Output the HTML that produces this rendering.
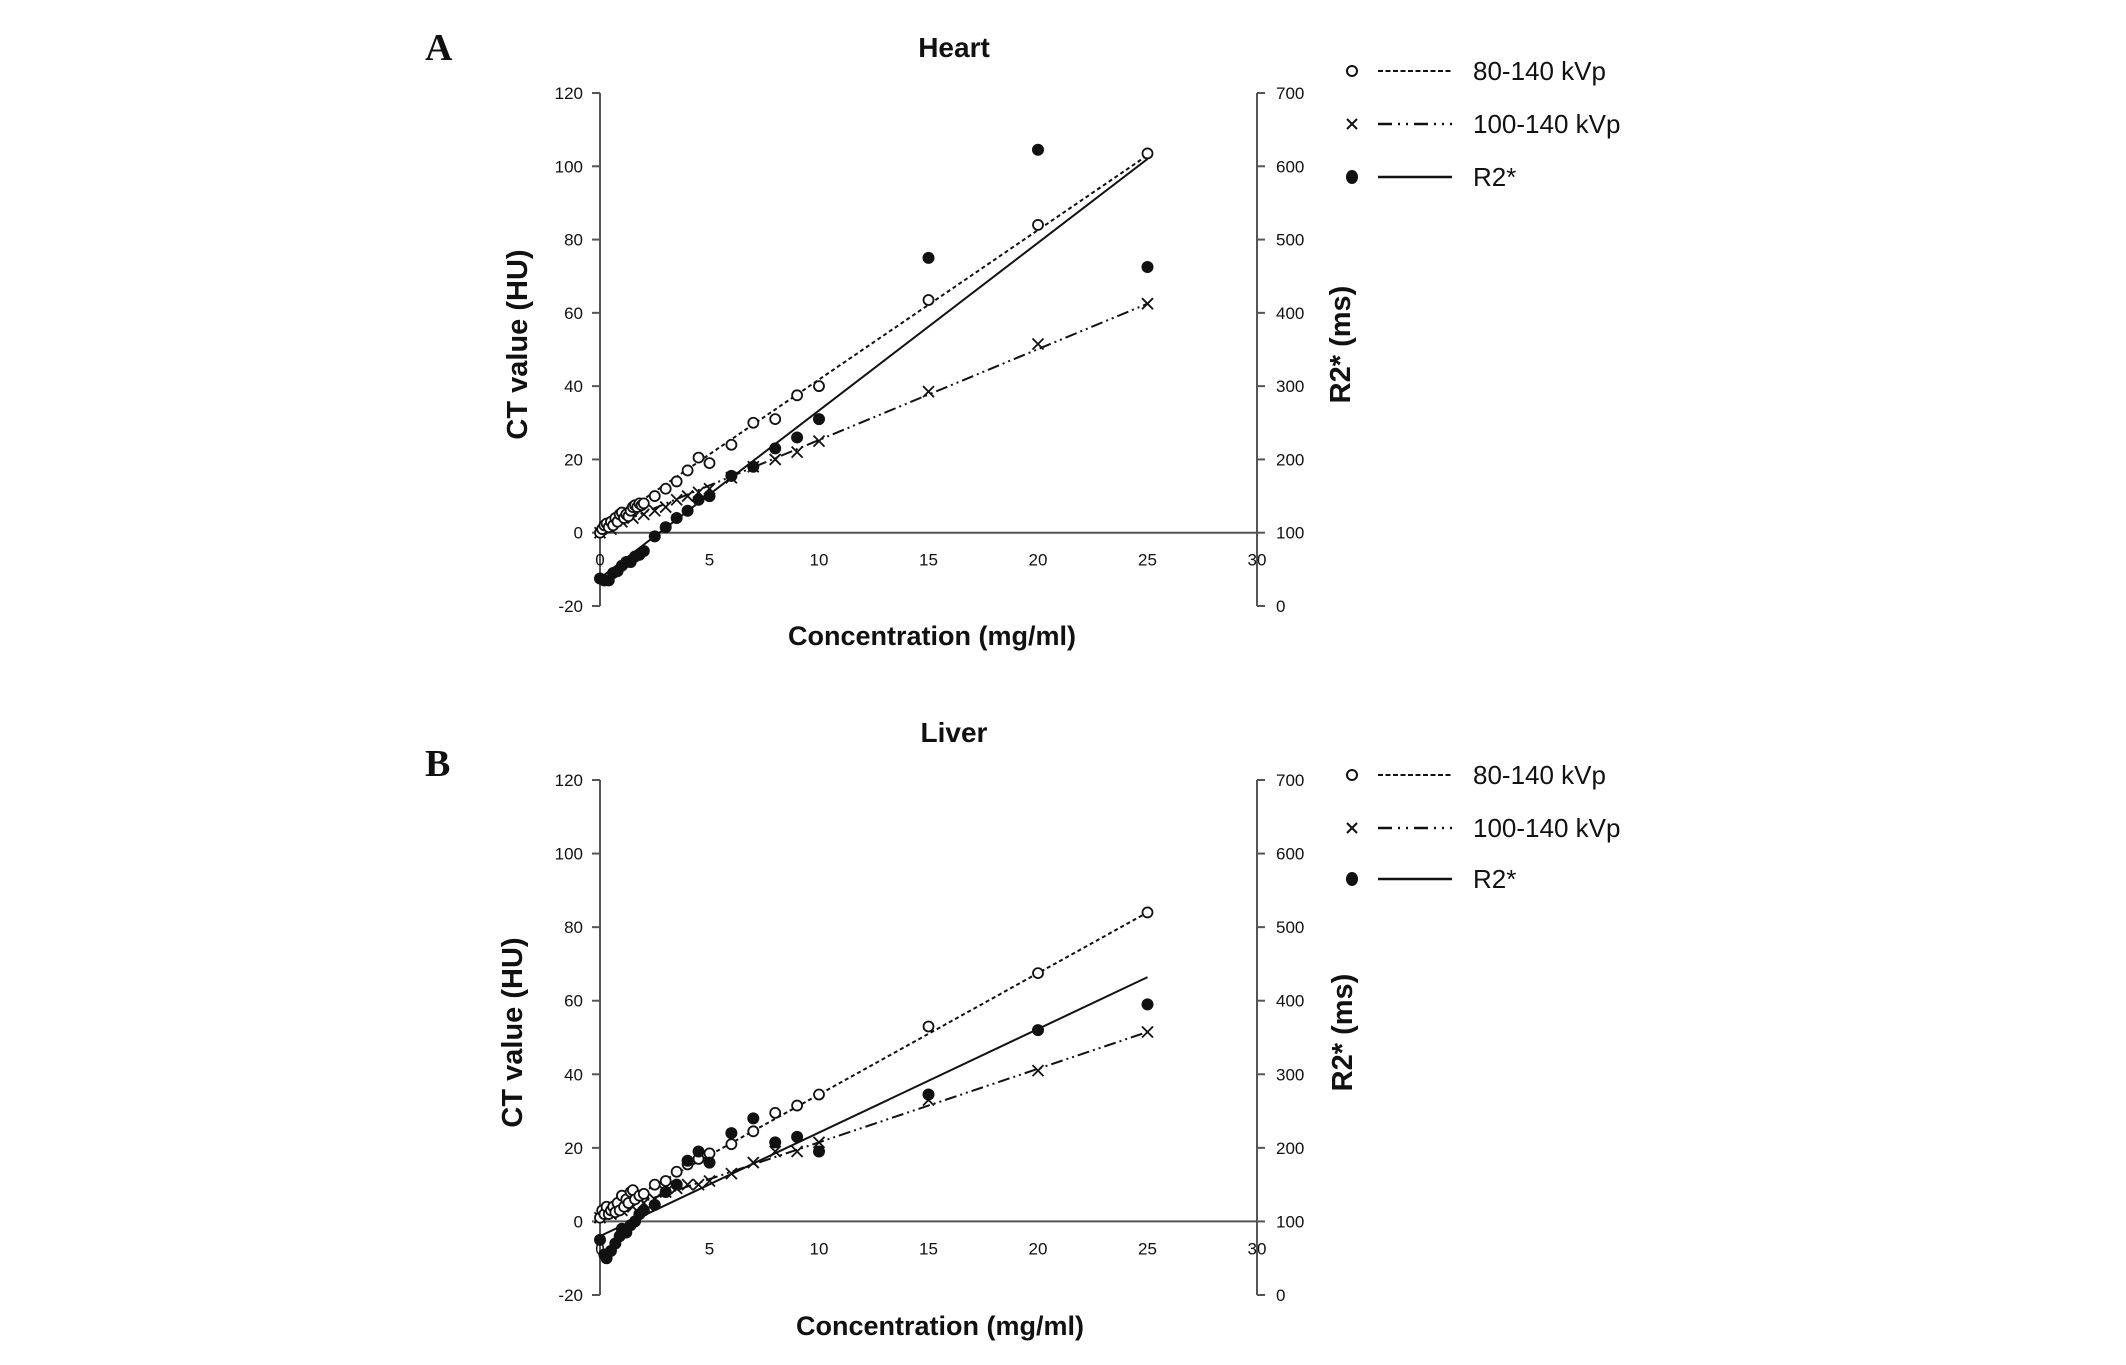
<!DOCTYPE html>
<html><head><meta charset="utf-8"><style>
html,body{margin:0;padding:0;background:#fff}
svg{display:block}
text{font-family:"Liberation Sans",sans-serif;fill:#111}
</style></head><body>
<svg id="fig" width="2126" height="1365" viewBox="0 0 2126 1365" xmlns="http://www.w3.org/2000/svg"></svg>
<script>
// ---- Data ----
const xTicks = [0,5,10,15,20,25,30];
const yTicksLeft = [120,100,80,60,40,20,0,-20];
const yTicksRight = [700,600,500,400,300,200,100,0];

const heartX80 = [0,0.1,0.2,0.3,0.4,0.5,0.6,0.7,0.8,0.9,1.0,1.1,1.2,1.3,1.4,1.5,1.6,1.7,1.8,1.9,2,2.5,3,3.5,4,4.5,5,6,7,8,9,10,15,20,25];
const heartY80 = [0,1,2,2.5,1.5,3,2,4,3,5,5.5,4,5,4.5,6,7,7.5,7,8,7.5,8,10,12,14,17,20.5,19,24,30,31,37.5,40,63.5,84,103.5];
const heartFit80 = [1, 103];
const heartX100 = [0,0.5,1,1.5,2,2.5,3,3.5,4,4.5,5,6,7,8,9,10,15,20,25];
const heartY100 = [0,1,3,4,5,6,7,9,10,11,12,15,18,20,22,25,38.5,51.5,62.5];
const heartFit100 = [0.5, 62.5];
const heartXR2 = [0,0.2,0.4,0.6,0.8,1.0,1.2,1.4,1.6,1.8,2,2.5,3,3.5,4,4.5,5,6,7,8,9,10,15,20,25];
const heartYR2 = [37.5,35,35,45,47.5,55,60,60,67.5,70,75,95,107.5,120,130,145,150,177.5,190,215,230,255,475,622.5,462.5];
const heartFitR2 = [38, 610];

const liverX80 = [0,0.1,0.2,0.3,0.4,0.5,0.6,0.7,0.8,0.9,1,1.1,1.2,1.3,1.4,1.5,1.6,1.8,2,2.5,3,3.5,4,4.5,5,6,7,8,9,10,15,20,25];
const liverY80 = [1,3,2,4,2,3,4,2.5,5,3,7,4,6,5,8,8.5,6,7,7.5,10,11,13.5,15.5,17,18.5,21,24.5,29.5,31.5,34.5,53,67.5,84];
const liverFit80 = [1.5, 84];
const liverX100 = [0,0.5,1,1.5,2,2.5,3,3.5,4,4.5,5,6,7,8,9,10,15,20,25];
const liverY100 = [1,2,3,4,5,6,8,9,10,10,11,13,16,19,19,21.5,33,41,51.5];
const liverFit100 = [1.5, 51.5];
const liverXR2 = [0,0.2,0.3,0.5,0.7,0.9,1,1.2,1.4,1.6,1.8,2,2.5,3,3.5,4,4.5,5,6,7,8,9,10,15,20,25];
const liverYR2 = [75,55,50,60,70,80,90,85,95,100,110,115,122.5,140,150,182.5,195,180,220,240,207.5,215,195,272.5,360,395];
const liverFitR2 = [80, 432];

const NS="http://www.w3.org/2000/svg";
const svg=document.getElementById('fig');
function el(tag,attrs,parent,txt){const e=document.createElementNS(NS,tag);for(const k in attrs)e.setAttribute(k,attrs[k]);if(txt!==undefined)e.textContent=txt;(parent||svg).appendChild(e);return e;}

function panel(o){
  const g=el('g',{});
  
  
  const X0=600,X1=1257,top=o.top,bot=o.bot;
  const sx=v=>X0+(v-0)/30*(X1-X0);
  const sy=v=>bot-(v+20)/140*(bot-top);
  const sr=v=>bot-v/700*(bot-top);
  const zero=sy(0);
  const ax=el('g',{stroke:'#555','stroke-width':2,fill:'none'},g);
  
  
  el('line',{x1:X0,y1:top,x2:X0,y2:bot},ax);
  el('line',{x1:X1,y1:top,x2:X1,y2:bot},ax);
  el('line',{x1:X0,y1:zero,x2:X1,y2:zero},ax);
  yTicksLeft.forEach(t=>{
    el('line',{x1:X0-8,y1:sy(t),x2:X0,y2:sy(t)},ax);
    const tx=el('text',{x:X0-17,y:sy(t)+6,'text-anchor':'end','font-size':17},g,String(t));
    
    
  });
  yTicksRight.forEach(t=>{
    el('line',{x1:X1,y1:sr(t),x2:X1+8,y2:sr(t)},ax);
    const tx=el('text',{x:X1+19,y:sr(t)+6,'text-anchor':'start','font-size':17},g,String(t));
    
    
  });
  xTicks.forEach(t=>{
    const tx=el('text',{x:sx(t),y:zero+33,'text-anchor':'middle','font-size':17},g,String(t));
    
    
  });
  const l1=el('line',{x1:sx(0),y1:sy(o.f80[0]),x2:sx(25),y2:sy(o.f80[1]),stroke:'#111','stroke-width':2,'stroke-dasharray':'4,3'},g);
  
  
  const l2=el('line',{x1:sx(0),y1:sy(o.f100[0]),x2:sx(25),y2:sy(o.f100[1]),stroke:'#111','stroke-width':2,'stroke-dasharray':'12,4,2,4,2,4'},g);
  
  
  const l3=el('line',{x1:sx(0),y1:sr(o.fr[0]),x2:sx(25),y2:sr(o.fr[1]),stroke:'#111','stroke-width':2},g);
  
  
  o.x100.forEach((x,i)=>{
    const cx=sx(x),cy=sy(o.y100[i]),d=5.5;
    const p=el('path',{d:`M${cx-d},${cy-d}L${cx+d},${cy+d}M${cx-d},${cy+d}L${cx+d},${cy-d}`,stroke:'#111','stroke-width':1.8,fill:'none'},g);
    
    
  });
  o.x80.forEach((x,i)=>{
    const c=el('circle',{cx:sx(x),cy:sy(o.y80[i]),r:5,fill:'#fff',stroke:'#111','stroke-width':1.8},g);
    
    
  });
  o.xr.forEach((x,i)=>{
    const c=el('circle',{cx:sx(x),cy:sr(o.yr[i]),r:6,fill:'#111'},g);
    
    
  });
  const pl=el('text',{x:425,y:o.letterY,'font-size':38,'font-weight':'bold',style:'font-family:"Liberation Serif",serif'},g,o.letter);
  
  
  const ti=el('text',{x:954,y:o.titleY,'text-anchor':'middle','font-size':28,'font-weight':'bold'},g,o.title);
  
  
  const xt=el('text',{x:o.xtX,y:o.xtY,'text-anchor':'middle','font-size':27,'font-weight':'bold'},g,'Concentration (mg/ml)');
  
  
  const ymid=(top+bot)/2-5;
  const yt=el('text',{x:0,y:0,'text-anchor':'middle','font-size':29,'font-weight':'bold',transform:`translate(${o.ytX},${ymid}) rotate(-90)`},g,'CT value (HU)');
  
  
  const rt=el('text',{x:0,y:0,'text-anchor':'middle','font-size':29,'font-weight':'bold',transform:`translate(${o.rtX},${ymid}) rotate(-90)`},g,'R2* (ms)');
  
  
  const lg=el('g',{},g);
  
  
  const ly=o.legY;
  const e1=el('g',{},lg);
  
  
  el('circle',{cx:1352,cy:ly[0],r:5,fill:'#fff',stroke:'#111','stroke-width':2},e1);
  el('line',{x1:1378,y1:ly[0],x2:1452,y2:ly[0],stroke:'#111','stroke-width':2,'stroke-dasharray':'5,2.5'},e1);
  el('text',{x:1473,y:ly[0]+9,'font-size':26},e1,'80-140 kVp');
  const e2=el('g',{},lg);
  
  
  el('path',{d:`M1347,${ly[1]-5}L1357,${ly[1]+5}M1347,${ly[1]+5}L1357,${ly[1]-5}`,stroke:'#111','stroke-width':2},e2);
  el('line',{x1:1378,y1:ly[1],x2:1452,y2:ly[1],stroke:'#111','stroke-width':2.5,'stroke-dasharray':'14,6,2,6,2,6'},e2);
  el('text',{x:1473,y:ly[1]+9,'font-size':26},e2,'100-140 kVp');
  const e3=el('g',{},lg);
  
  
  el('ellipse',{cx:1352,cy:ly[2],rx:6,ry:7,fill:'#111'},e3);
  el('line',{x1:1378,y1:ly[2],x2:1452,y2:ly[2],stroke:'#111','stroke-width':2.5},e3);
  el('text',{x:1473,y:ly[2]+9,'font-size':26},e3,'R2*');
}

panel({name:'heart-chart',top:93,bot:606,letter:'A',letterY:60,title:'Heart',titleY:57,xtX:932,xtY:645,ytX:527,rtX:1350,
  x80:heartX80,y80:heartY80,f80:heartFit80,x100:heartX100,y100:heartY100,f100:heartFit100,xr:heartXR2,yr:heartYR2,fr:heartFitR2,legY:[71,124,177]});
panel({name:'liver-chart',top:780,bot:1295,letter:'B',letterY:776,title:'Liver',titleY:742,xtX:940,xtY:1335,ytX:522,rtX:1352,
  x80:liverX80,y80:liverY80,f80:liverFit80,x100:liverX100,y100:liverY100,f100:liverFit100,xr:liverXR2,yr:liverYR2,fr:liverFitR2,legY:[775,828,879]});
</script>
</body></html>
